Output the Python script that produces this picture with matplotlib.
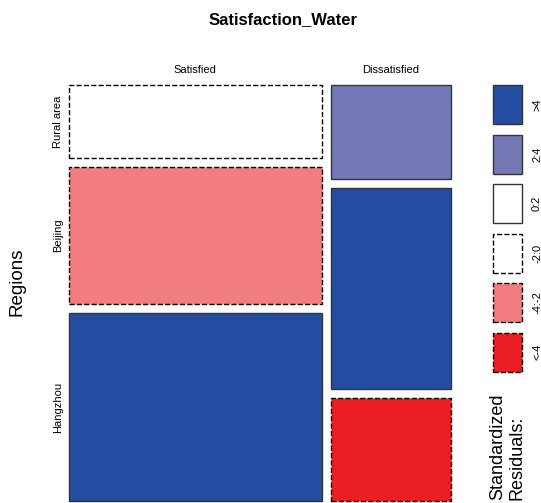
import numpy as np
import matplotlib
matplotlib.use("Agg")
import matplotlib.pyplot as plt
from matplotlib.patches import Rectangle

plt.rcParams['font.family'] = ['Liberation Sans', 'DejaVu Sans']

# counts
satisfaction = ["Satisfied", "Dissatisfied"]
regions = ["Rural area", "Beijing", "Hangzhou"]
satisfied_counts = [312, 582, 800]
dissatisfied_counts = [190, 408, 208]

legend_labels = [">4", "2:4", "0:2", "-2:0", "-4:-2", "<-4"]
legend_colors = ["#234DA0", "#7479B6", "#FFFFFF", "#FFFFFF", "#F07C80", "#EB1E24"]

counts = np.array([satisfied_counts, dissatisfied_counts], dtype=float)


def shade(r):
    # pick colour and line style from a Pearson residual
    if r > 4:
        return legend_colors[0], "solid"
    if r > 2:
        return legend_colors[1], "solid"
    if r > 0:
        return legend_colors[2], "solid"
    if r > -2:
        return legend_colors[3], "dashed"
    if r > -4:
        return legend_colors[4], "dashed"
    return legend_colors[5], "dashed"


total = counts.sum()
expected = np.outer(counts.sum(axis=1), counts.sum(axis=0)) / total
resid = (counts - expected) / np.sqrt(expected)

fig = plt.figure(figsize=(5.41, 5.03), dpi=100)
ax = fig.add_axes([69 / 541, 2 / 503, 382 / 541, 416 / 503])
ax.set_xlim(0, 1)
ax.set_ylim(0, 1)
ax.axis("off")

gap_x = 9 / 382
gap_y = 9 / 416
col_w = counts.sum(axis=1) / total * (1 - gap_x * (len(satisfaction) - 1))

x0 = 0
for j, name in enumerate(satisfaction):
    heights = counts[j] / counts[j].sum() * (1 - gap_y * (len(regions) - 1))
    top = 1.0
    for i, reg in enumerate(regions):
        color, ls = shade(resid[j, i])
        ec = "#333333" if ls == "solid" else "black"
        ax.add_patch(Rectangle((x0, top - heights[i]), col_w[j], heights[i],
                               facecolor=color, edgecolor=ec, linestyle=ls,
                               linewidth=1.0, clip_on=False))
        if j == 0:
            ax.text(-0.029, top - heights[i] / 2, reg, rotation=90,
                    ha="center", va="center", fontsize=8)
        top -= heights[i] + gap_y
    ax.text(x0 + col_w[j] / 2, 1.035, name, ha="center", va="center", fontsize=8)
    x0 += col_w[j] + gap_x

fig.text(283 / 541, 1 - 20 / 503, "Satisfaction_Water", ha="center", va="center",
         fontsize=12, fontweight="bold")
fig.text(17 / 541, 1 - 282 / 503, "Regions", rotation=90, ha="center",
         va="center", fontsize=13.5)

# legend
lax = fig.add_axes([493 / 541, 1 - 377 / 503, 29 / 541, 297 / 503])
lax.set_xlim(0, 1)
lax.set_ylim(0, len(legend_labels))
lax.axis("off")
for k, (lab, col) in enumerate(zip(legend_labels, legend_colors)):
    ls = "solid" if k < 3 else "dashed"
    ec = "#333333" if k < 3 else "black"
    y = len(legend_labels) - k - 1
    lax.add_patch(Rectangle((0, y + 0.11), 1, 0.78, facecolor=col, edgecolor=ec,
                            linestyle=ls, linewidth=1.0, clip_on=False))
    lax.text(1.52, y + 0.5, lab, rotation=90, ha="center", va="center",
             fontsize=8, clip_on=False)

fig.text(507.5 / 541, 1 - 500 / 503, "Standardized\nResiduals:", rotation=90,
         ha="center", va="bottom", multialignment="left", fontsize=13,
         linespacing=1.15)

fig.savefig("out.png", dpi=100)
